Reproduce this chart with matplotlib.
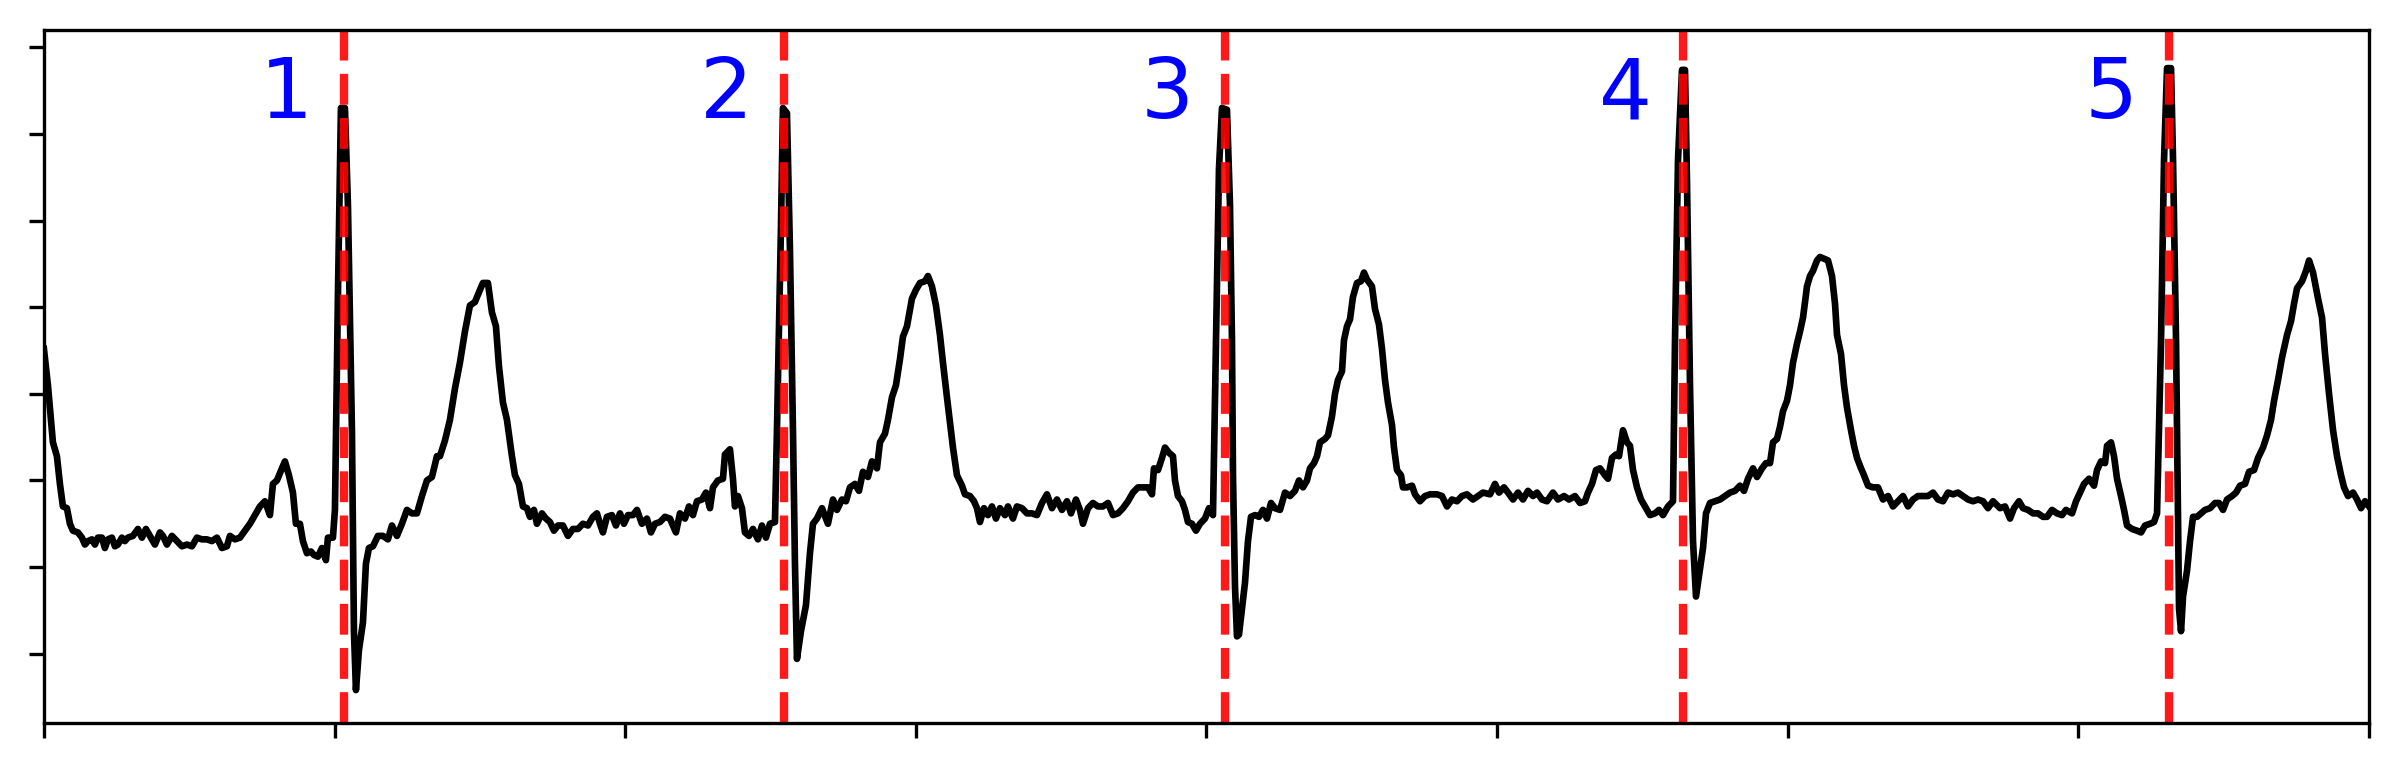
import numpy as np
import matplotlib
matplotlib.use('Agg')
import matplotlib.pyplot as plt

# ECG trace, (sample index, mV), split into one piece per window
seg_1 = [(0, 1.76), (4, 1.55), (9, 1.22), (13, 1.14), (16, 0.98), (19, 0.85), (23, 0.84),
         (26, 0.75), (29, 0.71), (34, 0.70), (38, 0.67), (41, 0.63), (44, 0.65), (48, 0.66),
         (51, 0.63), (54, 0.67), (58, 0.67), (61, 0.61), (64, 0.66), (68, 0.67), (71, 0.62),
         (74, 0.63), (78, 0.67), (81, 0.65), (84, 0.67), (89, 0.68), (94, 0.72), (98, 0.67),
         (102, 0.72), (106, 0.68), (111, 0.63), (116, 0.70), (119, 0.68), (123, 0.63),
         (128, 0.68), (133, 0.65), (138, 0.62), (143, 0.63), (148, 0.62), (153, 0.67),
         (158, 0.66), (163, 0.66), (168, 0.65), (173, 0.67), (178, 0.61), (183, 0.62),
         (186, 0.68), (191, 0.66), (196, 0.67), (201, 0.71), (206, 0.75), (211, 0.80),
         (216, 0.85), (221, 0.88), (226, 0.80), (229, 0.98), (233, 1.00), (238, 1.07),
         (241, 1.11), (245, 1.03), (249, 0.93), (252, 0.75), (256, 0.75), (259, 0.65),
         (263, 0.58), (267, 0.59), (270, 0.57), (274, 0.56), (278, 0.61), (282, 0.54),
         (284, 0.67), (289, 0.67), (291, 0.83), (294, 2.07), (297, 3.15), (301, 3.15),
         (304, 2.59), (308, 1.29), (310, 0.13), (312, -0.21), (315, 0.02), (319, 0.18),
         (322, 0.52), (325, 0.61), (329, 0.62), (334, 0.68), (339, 0.68), (344, 0.66),
         (348, 0.74), (353, 0.68), (358, 0.75), (363, 0.83), (368, 0.81), (373, 0.81),
         (378, 0.91), (383, 1.00), (388, 1.02), (393, 1.14), (396, 1.14)]

seg_2 = [(401, 1.23), (406, 1.35), (411, 1.53), (416, 1.68), (421, 1.86), (426, 2.01),
         (431, 2.03), (436, 2.10), (439, 2.14), (444, 2.14), (448, 1.97), (452, 1.89),
         (455, 1.66), (459, 1.45), (463, 1.35), (468, 1.14), (471, 1.03), (475, 0.98),
         (479, 0.85), (483, 0.84), (486, 0.79), (490, 0.83), (493, 0.75), (498, 0.81),
         (502, 0.78), (506, 0.76), (510, 0.71), (514, 0.74), (519, 0.74), (524, 0.68),
         (529, 0.72), (534, 0.72), (539, 0.75), (544, 0.74), (549, 0.79), (553, 0.81),
         (556, 0.75), (559, 0.70), (563, 0.79), (568, 0.80), (572, 0.74), (576, 0.81),
         (580, 0.75), (584, 0.80), (589, 0.80), (593, 0.83), (598, 0.75), (603, 0.78),
         (607, 0.70), (611, 0.75), (616, 0.76), (621, 0.79), (626, 0.78), (632, 0.70),
         (636, 0.81), (641, 0.78), (645, 0.85), (649, 0.80), (653, 0.88), (658, 0.89),
         (662, 0.93), (666, 0.84), (669, 0.96), (674, 1.00), (679, 1.01), (681, 1.15),
         (686, 1.18), (689, 1.01), (691, 0.85), (694, 0.91), (698, 0.84), (701, 0.70),
         (705, 0.68), (709, 0.72), (714, 0.66), (718, 0.74), (722, 0.67), (726, 0.75),
         (731, 0.76), (733, 1.29), (737, 2.46), (739, 3.15), (743, 3.12), (746, 2.33),
         (749, 1.29), (751, 0.52), (753, -0.03), (757, 0.13), (762, 0.28), (766, 0.58),
         (769, 0.75), (773, 0.78), (778, 0.84)]

seg_3 = [(784, 0.75), (789, 0.89), (793, 0.83), (798, 0.89), (802, 0.88), (806, 0.96),
         (811, 0.98), (815, 0.94), (819, 1.05), (824, 1.02), (828, 1.11), (833, 1.07),
         (836, 1.22), (841, 1.27), (844, 1.35), (848, 1.48), (852, 1.55), (856, 1.70),
         (859, 1.83), (863, 1.89), (868, 2.05), (872, 2.10), (876, 2.14), (881, 2.15),
         (884, 2.18), (888, 2.12), (892, 2.01), (896, 1.84), (899, 1.68), (903, 1.48),
         (907, 1.29), (909, 1.19), (913, 1.03), (918, 0.97), (921, 0.92), (926, 0.91),
         (930, 0.88), (933, 0.84), (936, 0.76), (940, 0.84), (944, 0.80), (948, 0.85),
         (952, 0.78), (956, 0.84), (961, 0.80), (964, 0.85), (969, 0.78), (973, 0.85),
         (978, 0.84), (983, 0.81), (988, 0.81), (993, 0.80), (998, 0.87), (1003, 0.92),
         (1008, 0.84), (1013, 0.89), (1018, 0.83), (1023, 0.88), (1027, 0.81), (1032, 0.89),
         (1036, 0.83), (1039, 0.75), (1044, 0.84), (1049, 0.87), (1054, 0.85), (1059, 0.85),
         (1064, 0.87), (1069, 0.80), (1074, 0.81), (1079, 0.84), (1084, 0.88), (1089, 0.93),
         (1094, 0.96), (1099, 0.96), (1104, 0.96), (1108, 0.92), (1110, 1.07), (1114, 1.06),
         (1118, 1.13), (1121, 1.19), (1125, 1.16), (1129, 1.14), (1131, 1.00), (1134, 0.91),
         (1138, 0.88), (1141, 0.83), (1144, 0.76), (1148, 0.75), (1152, 0.71), (1156, 0.75),
         (1161, 0.78), (1165, 0.84), (1169, 0.80)]

seg_4 = [(1172, 1.81), (1175, 2.80), (1178, 3.15), (1183, 3.14), (1186, 2.59), (1188, 1.81),
         (1189, 1.03), (1191, 0.39), (1193, 0.10), (1195, 0.11), (1198, 0.26), (1201, 0.41),
         (1204, 0.65), (1207, 0.79), (1211, 0.80), (1215, 0.79), (1219, 0.83), (1223, 0.78),
         (1227, 0.87), (1231, 0.84), (1236, 0.83), (1241, 0.93), (1246, 0.91), (1251, 0.94),
         (1255, 1.00), (1259, 0.96), (1263, 1.00), (1266, 1.07), (1270, 1.10), (1273, 1.14),
         (1276, 1.22), (1281, 1.24), (1284, 1.26), (1288, 1.37), (1291, 1.50), (1294, 1.58),
         (1298, 1.63), (1300, 1.81), (1303, 1.89), (1306, 1.93), (1309, 2.06), (1313, 2.14),
         (1317, 2.15), (1320, 2.20), (1323, 2.16), (1328, 2.12), (1331, 1.99), (1335, 1.90),
         (1338, 1.76), (1341, 1.58), (1344, 1.45), (1348, 1.32), (1350, 1.19), (1353, 1.06),
         (1357, 1.03), (1359, 0.96), (1363, 0.96), (1368, 0.97), (1371, 0.92), (1376, 0.88),
         (1381, 0.91), (1386, 0.92), (1393, 0.92), (1398, 0.91), (1403, 0.85), (1408, 0.89),
         (1413, 0.88), (1418, 0.91), (1423, 0.92), (1429, 0.89), (1434, 0.91), (1439, 0.93),
         (1446, 0.92), (1451, 0.98), (1455, 0.93), (1460, 0.96), (1464, 0.93), (1469, 0.89),
         (1474, 0.93), (1479, 0.89), (1484, 0.94), (1489, 0.91), (1493, 0.93), (1498, 0.89),
         (1503, 0.88), (1509, 0.93), (1514, 0.89), (1520, 0.91), (1525, 0.89), (1531, 0.91),
         (1536, 0.87), (1541, 0.88), (1544, 0.93), (1548, 0.98), (1552, 1.06), (1556, 1.07)]

seg_5 = [(1561, 1.03), (1564, 1.01), (1568, 1.13), (1572, 1.15), (1575, 1.14), (1579, 1.29),
         (1583, 1.22), (1586, 1.20), (1589, 1.06), (1593, 0.96), (1597, 0.89), (1601, 0.85),
         (1606, 0.80), (1611, 0.81), (1615, 0.83), (1619, 0.80), (1624, 0.85), (1629, 0.88),
         (1631, 1.81), (1634, 2.85), (1638, 3.37), (1641, 3.37), (1643, 2.72), (1646, 1.55),
         (1649, 0.65), (1652, 0.33), (1655, 0.45), (1659, 0.61), (1662, 0.81), (1666, 0.87),
         (1671, 0.88), (1676, 0.89), (1681, 0.91), (1686, 0.93), (1691, 0.94), (1696, 0.97),
         (1700, 0.94), (1704, 1.01), (1709, 1.07), (1713, 1.02), (1718, 1.07), (1722, 1.10),
         (1726, 1.10), (1729, 1.22), (1733, 1.24), (1736, 1.31), (1739, 1.40), (1743, 1.46),
         (1746, 1.55), (1749, 1.68), (1753, 1.79), (1756, 1.86), (1759, 1.94), (1763, 2.12),
         (1766, 2.18), (1769, 2.21), (1773, 2.27), (1776, 2.29), (1780, 2.28), (1784, 2.27),
         (1788, 2.18), (1791, 2.02), (1793, 1.84), (1797, 1.73), (1800, 1.55), (1803, 1.42),
         (1807, 1.29), (1810, 1.20), (1813, 1.13), (1817, 1.07), (1820, 1.03), (1824, 0.97),
         (1829, 0.96), (1834, 0.96), (1839, 0.89), (1844, 0.91), (1849, 0.85), (1854, 0.88),
         (1859, 0.91), (1864, 0.85), (1869, 0.89), (1874, 0.91), (1879, 0.91), (1884, 0.91),
         (1889, 0.93), (1894, 0.89), (1899, 0.88), (1904, 0.93), (1909, 0.92), (1914, 0.93),
         (1919, 0.91), (1924, 0.89), (1929, 0.88), (1934, 0.89), (1939, 0.88), (1944, 0.84),
         (1949, 0.88)]

seg_6 = [(1956, 0.84), (1961, 0.85), (1966, 0.78), (1970, 0.84), (1975, 0.88), (1979, 0.84),
         (1984, 0.83), (1989, 0.81), (1994, 0.81), (1999, 0.79), (2003, 0.79), (2008, 0.83),
         (2013, 0.81), (2018, 0.80), (2022, 0.83), (2028, 0.81), (2032, 0.88), (2036, 0.93),
         (2040, 0.98), (2045, 1.01), (2050, 0.97), (2053, 1.06), (2057, 1.11), (2061, 1.10),
         (2063, 1.20), (2067, 1.22), (2070, 1.14), (2073, 1.01), (2077, 0.91), (2080, 0.83),
         (2083, 0.74), (2088, 0.72), (2093, 0.71), (2097, 0.70), (2101, 0.74), (2106, 0.75),
         (2110, 0.76), (2113, 0.81), (2117, 1.81), (2120, 2.85), (2123, 3.38), (2127, 3.38),
         (2129, 2.85), (2132, 1.81), (2134, 0.78), (2135, 0.26), (2137, 0.13), (2139, 0.33),
         (2143, 0.48), (2146, 0.65), (2149, 0.79), (2153, 0.79), (2157, 0.81), (2161, 0.83),
         (2166, 0.84), (2171, 0.87), (2175, 0.87), (2179, 0.83), (2183, 0.89), (2188, 0.91),
         (2192, 0.93), (2196, 0.97), (2201, 0.98), (2205, 1.05), (2210, 1.06), (2214, 1.13),
         (2219, 1.19), (2223, 1.26), (2227, 1.35), (2230, 1.46), (2234, 1.58), (2238, 1.71),
         (2243, 1.84), (2247, 1.92), (2250, 2.02), (2253, 2.11), (2258, 2.15), (2262, 2.21),
         (2265, 2.27), (2269, 2.20), (2274, 2.05), (2278, 1.94), (2281, 1.73), (2285, 1.50),
         (2289, 1.29), (2293, 1.14), (2297, 1.03), (2300, 0.96), (2304, 0.91), (2309, 0.93),
         (2313, 0.89), (2317, 0.84), (2321, 0.88), (2325, 0.85)]

r_peaks = [300, 740, 1181, 1639, 2125]
beat_labels = ['1', '2', '3', '4', '5']
n_samples = 2325

trace = np.array(seg_1 + seg_2 + seg_3 + seg_4 + seg_5 + seg_6)
samples, ecg = trace[:, 0], trace[:, 1]

fig = plt.figure(figsize=(8, 2.56), dpi=300)
ax = fig.add_axes([0.0183, 0.0586, 0.9688, 0.9023])
ax.plot(samples, ecg, color='black', lw=1.6)

for r, lab in zip(r_peaks, beat_labels):
    ax.axvline(r, color='red', ls='--', lw=2, alpha=0.9)
    ax.text(r - 58, 3.09, lab, color='blue', fontsize=20, ha='center', va='baseline')

ax.set_xlim(0, n_samples)
ax.set_ylim(-0.4, 3.6)
ax.set_xticks(np.linspace(0, n_samples, 9))
ax.set_yticks(np.arange(0, 3.6, 0.5))
ax.set_xticklabels([])
ax.set_yticklabels([])

fig.savefig('out.png', dpi=300)
